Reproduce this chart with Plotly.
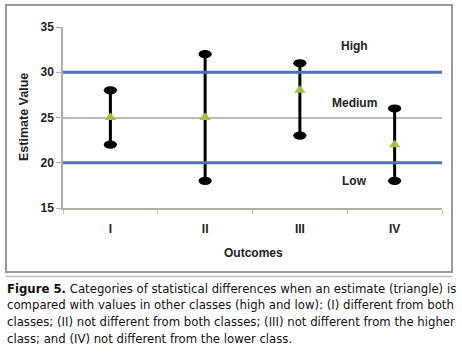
import plotly.graph_objects as go

# ---- data ----
outcomes = ["I", "II", "III", "IV"]
low_values = [22, 18, 23, 18]
high_values = [28, 32, 31, 26]
estimates = [25, 25, 28, 22]
class_bounds = [20, 30]
y_ticks = [15, 20, 25, 30, 35]
zone_labels = ["High", "Medium", "Low"]

caption_lines = [
    "<b>Figure 5.</b> Categories of statistical differences when an estimate (triangle) is",
    "compared with values in other classes (high and low): (I) different from both",
    "classes; (II) not different from both classes; (III) not different from the higher",
    "class; and (IV) not different from the lower class.",
]

W, H = 462, 356
L, R, T, B = 63, 20, 27, 148
pw, ph = W - L - R, H - T - B


def px(x):
    return (x - L) / pw


def py(y):
    return (H - B - y) / ph


fig = go.Figure()

# class boundary lines (on an overlaying numeric x axis spanning the plot)
for b in class_bounds:
    fig.add_trace(go.Scatter(x=[0, 1], y=[b, b], xaxis="x2", mode="lines",
                             line=dict(color="#4A74BC", width=3), hoverinfo="skip", showlegend=False))

# range lines
lx, ly = [], []
for c, lo, hi in zip(outcomes, low_values, high_values):
    lx += [c, c, None]
    ly += [lo, hi, None]
fig.add_trace(go.Scatter(x=lx, y=ly, mode="lines", line=dict(color="black", width=3),
                         hoverinfo="skip", showlegend=False))

# estimates
fig.add_trace(go.Scatter(x=outcomes, y=estimates, mode="markers",
                         marker=dict(symbol="triangle-up", size=10, color="#9DC43F"),
                         showlegend=False))

# caps (ellipses) placed at the data values
cap_dx, cap_dy = 0.07, 0.45
for i in range(len(outcomes)):
    for v in (low_values[i], high_values[i]):
        fig.add_shape(type="circle", xref="x", yref="y",
                      x0=i - cap_dx, x1=i + cap_dx, y0=v - cap_dy, y1=v + cap_dy,
                      fillcolor="black", line=dict(color="black", width=0), layer="above")

font_main = "Liberation Sans, Arial, sans-serif"
font_cap = "DejaVu Sans Condensed, Liberation Sans, Arial, sans-serif"

# zone labels
for lab, yy in zip(zone_labels, [32.9, 26.6, 18.0]):
    fig.add_annotation(x=2.58, y=yy, xref="x", yref="y", text="<b>" + lab + "</b>",
                       showarrow=False, font=dict(size=12, color="#222", family=font_main))

# axis titles
fig.add_annotation(x=px(24), y=py(117), xref="paper", yref="paper", text="<b>Estimate Value</b>",
                   xanchor="center", yanchor="middle",
                   textangle=-90, showarrow=False, font=dict(size=12.5, color="#222", family=font_main))
fig.add_annotation(x=px(253), y=py(253), xref="paper", yref="paper", text="<b>Outcomes</b>",
                   xanchor="center", yanchor="middle",
                   showarrow=False, font=dict(size=12, color="#222", family=font_main))

# caption
for i, line in enumerate(caption_lines):
    fig.add_annotation(x=px(5), y=py(288 + i * 16.7), xref="paper", yref="paper",
                       xanchor="left", yanchor="middle", text=line, showarrow=False,
                       font=dict(size=13, color="#111", family=font_cap))

# border
fig.add_shape(type="rect", xref="paper", yref="paper", x0=px(6), x1=px(452), y0=py(5), y1=py(272),
              line=dict(color="#9a9a9a", width=2), layer="below")
fig.add_shape(type="line", xref="paper", yref="paper", x0=px(6), x1=px(452), y0=py(276.5), y1=py(276.5),
              line=dict(color="#bbbbbb", width=1.5))

fig.update_xaxes(type="category", categoryorder="array", categoryarray=outcomes,
                 range=[-0.5, 3.5], showgrid=False, showline=True, linecolor="#b5aca4", linewidth=1.5,
                 ticks="outside", tickson="boundaries", ticklen=4, tickcolor="#c8c0b8",
                 tickfont=dict(size=12, color="#222", family=font_main),
                 tickvals=outcomes, ticktext=["<b>%s</b>" % o for o in outcomes],
                 ticklabelstandoff=9, zeroline=False)
fig.update_yaxes(range=[15, 35], tickvals=y_ticks, ticktext=["<b>%d</b>" % v for v in y_ticks],
                 showgrid=True, gridcolor="#c4b9b0", gridwidth=1.5,
                 showline=True, linecolor="#b5aca4", linewidth=1.5,
                 ticks="outside", ticklen=5, tickcolor="#b5aca4",
                 tickfont=dict(size=12, color="#222", family=font_main), zeroline=False)

fig.update_layout(width=W, height=H, margin=dict(l=L, r=R, t=T, b=B),
                  xaxis2=dict(overlaying="x", range=[0, 1], visible=False, fixedrange=True),
                  paper_bgcolor="white", plot_bgcolor="white", showlegend=False)

fig.write_html("out.html", config={"displayModeBar": False},
               post_script="document.body.style.margin='0';")
